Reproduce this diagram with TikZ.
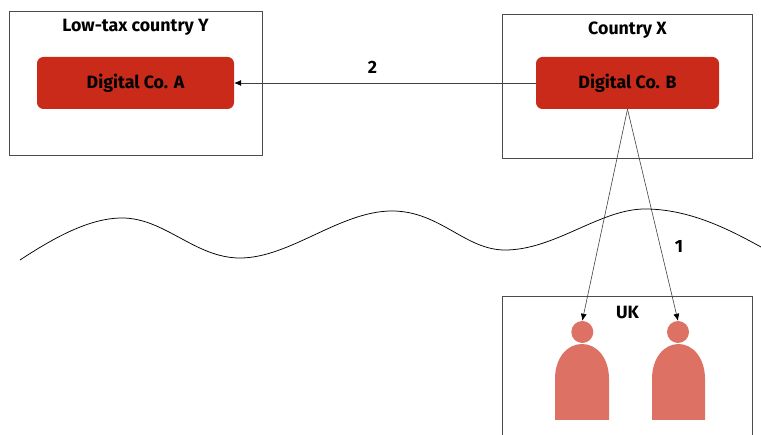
\documentclass[tikz,border=0pt]{standalone}
\usepackage{fontspec}
\setmainfont{Fira Sans}
\usetikzlibrary{arrows.meta}
\definecolor{cored}{HTML}{CA2A19}
\definecolor{copink}{HTML}{DD7264}
\tikzset{
 x=1pt,y=-1pt,
 country/.style={draw=black!70,line width=0.9pt,fill=white,rectangle,inner sep=0pt,anchor=north west},
 company/.style={fill=cored,rounded corners=6.5pt,inner sep=0pt,minimum height=52pt,font=\bfseries\fontsize{17.8}{20}\selectfont},
 lab/.style={inner sep=0pt,font=\bfseries\fontsize{17.8}{20}\selectfont},
 head/.style={circle,fill=copink,inner sep=0pt,minimum size=22pt},
 body/.style={fill=copink},
 conn/.style={draw=black!75,line width=0.6pt,-{Latex[length=7pt,width=6pt,black]}}
}
\begin{document}
\begin{tikzpicture}
\useasboundingbox (0,0) rectangle (761,435);
\clip (0,0) rectangle (761,435);
\node[country,minimum width=253pt,minimum height=144pt] (boxY) at (9,11.3) {};
\node[country,minimum width=250pt,minimum height=144pt] (boxX) at (502,14) {};
\node[country,minimum width=250pt,minimum height=150pt] (boxUK) at (502,296) {};
\node[lab] (tY) at (135.5,27) {Low-tax country Y};
\node[lab] (tX) at (627.5,30) {Country X};
\node[lab] (tUK) at (627.5,312) {UK};
\node[company,minimum width=197pt] (coA) at (135.5,83) {Digital Co. A};
\node[company,minimum width=183pt] (coB) at (627.5,83) {Digital Co. B};
\node[lab] (n2) at (372.5,67) {2};
\node[lab] (n1) at (679,246) {1};
\node[head] (h1) at (582.3,332) {};
\node[head] (h2) at (678,332) {};
\path[body] (555,420) -- (555,379) .. controls (555,358) and (567,344) .. (582,344) .. controls (597,344) and (609,358) .. (609,379) -- (609,420) -- cycle;
\path[body] (652,420) -- (652,379) .. controls (652,358) and (664,344) .. (678.5,344) .. controls (693,344) and (705,358) .. (705,379) -- (705,420) -- cycle;
\draw[conn] (coB.west) -- (coA.east);
\draw[conn] (coB.south) -- (h1.north);
\draw[conn] (coB.south) -- (h2.north);
\draw[line width=0.75pt,black] (20,260) .. controls (55,237) and (90,218) .. (122,218)
 .. controls (165,218) and (195,258) .. (240,258)
 .. controls (290,258) and (340,211) .. (392,211)
 .. controls (440,211) and (465,250) .. (505,250)
 .. controls (555,250) and (600,209) .. (645,209)
 .. controls (690,209) and (730,230) .. (761,247);
\end{tikzpicture}
\end{document}
